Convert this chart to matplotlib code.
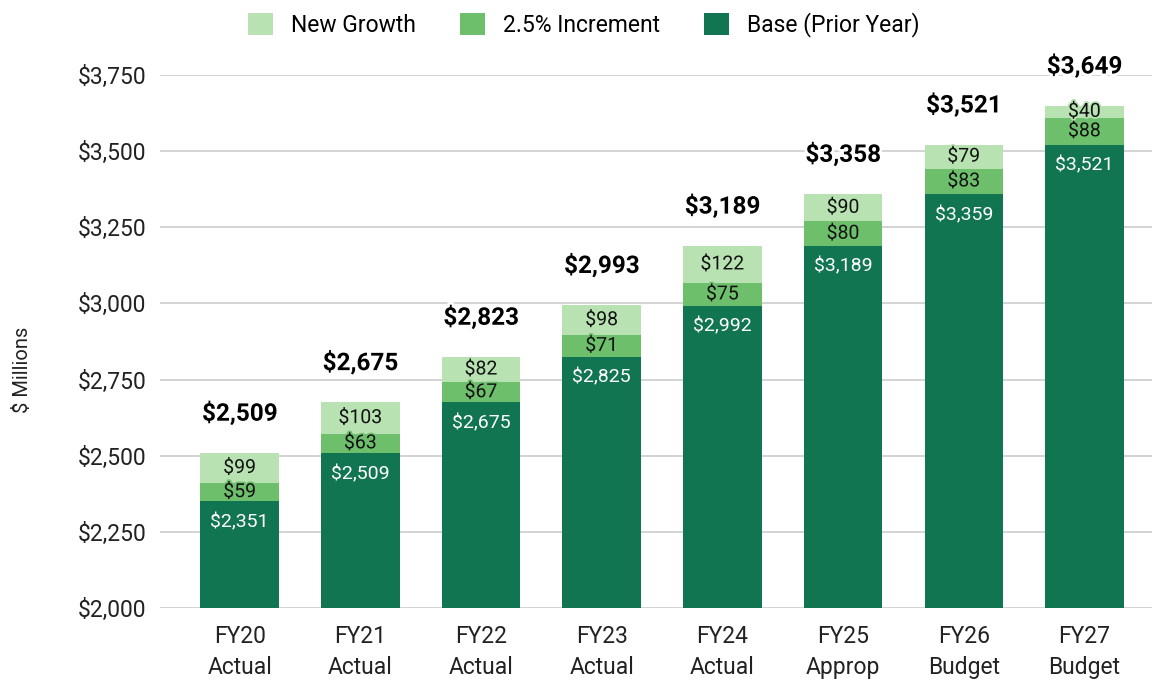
import matplotlib
matplotlib.use("Agg")
import matplotlib.pyplot as plt
import matplotlib.patheffects as pe
import numpy as np

plt.rcParams['font.family'] = ['Roboto', 'DejaVu Sans']

# données
annees = ["FY20\nActual", "FY21\nActual", "FY22\nActual", "FY23\nActual",
          "FY24\nActual", "FY25\nApprop", "FY26\nBudget", "FY27\nBudget"]
base = [2351, 2509, 2675, 2825, 2992, 3189, 3359, 3521]
increment = [59, 63, 67, 71, 75, 80, 83, 88]
croissance = [99, 103, 82, 98, 122, 90, 79, 40]
totaux = [2509, 2675, 2823, 2993, 3189, 3358, 3521, 3649]
y_ticks = [2000, 2250, 2500, 2750, 3000, 3250, 3500, 3750]

c_base = "#127552"
c_inc = "#6dbf6c"
c_new = "#b8e2b2"

fig = plt.figure(figsize=(11.54, 6.81), dpi=100)
ax = fig.add_axes([160/1154, 1-608/681, 992/1154, (608-75)/681])

x = np.arange(len(annees))
w = 0.65
b_base = np.array(base)
b_inc = b_base + np.array(increment)

ax.bar(x, base, w, color=c_base, label="Base (Prior Year)", zorder=2)
ax.bar(x, increment, w, bottom=b_base, color=c_inc, label="2.5% Increment", zorder=2)
ax.bar(x, croissance, w, bottom=b_inc, color=c_new, label="New Growth", zorder=2)

for i in range(len(x)):
    # base : libellé sous le haut du segment
    ax.annotate("${:,}".format(base[i]), (x[i], base[i]), xytext=(0, -15),
                textcoords="offset points", ha="center", va="center",
                color="white", fontsize=14, zorder=3)
    ax.text(x[i], base[i] + increment[i]/2, "${:,}".format(increment[i]),
            ha="center", va="center", fontsize=14, color="#111111", zorder=4,
            path_effects=[pe.withStroke(linewidth=2.5, foreground=c_inc)])
    ax.text(x[i], b_inc[i] + croissance[i]/2, "${:,}".format(croissance[i]),
            ha="center", va="center", fontsize=14, color="#111111", zorder=4,
            path_effects=[pe.withStroke(linewidth=2.5, foreground=c_new)])
    top = b_inc[i] + croissance[i]
    ax.annotate("${:,}".format(totaux[i]), (x[i], top), xytext=(0, 28),
                textcoords="offset points", ha="center", va="center",
                fontsize=17.5, fontweight="bold", color="black",
                annotation_clip=False, zorder=5,
                path_effects=[pe.withStroke(linewidth=4, foreground="white")])

ax.set_ylim(2000, 3750)
ax.set_xlim(-0.66, 7.56)
ax.set_yticks(y_ticks)
ax.set_yticklabels(["${:,}".format(v) for v in y_ticks])
ax.set_xticks(x)
ax.set_xticklabels(annees, linespacing=1.42)
ax.tick_params(axis="both", length=0, labelsize=16.5, colors="#222222")
ax.tick_params(axis="y", pad=10)
ax.tick_params(axis="x", pad=12.5)
ax.grid(axis="y", color="#cccccc", linewidth=1.2, zorder=0)
ax.set_axisbelow(True)
for s in ax.spines.values():
    s.set_visible(False)

fig.text(22/1154, 1-370/681, "$ Millions", rotation=90, ha="center", va="center",
         fontsize=14.5, color="#222222")

h, l = ax.get_legend_handles_labels()
fig.legend(h[::-1], l[::-1], loc="upper center", bbox_to_anchor=(0.506, 1.012),
           ncol=3, frameon=False, fontsize=16.5, handlelength=1.1, handleheight=1.1,
           columnspacing=1.9, handletextpad=0.8)

fig.savefig("out.png", dpi=100)
